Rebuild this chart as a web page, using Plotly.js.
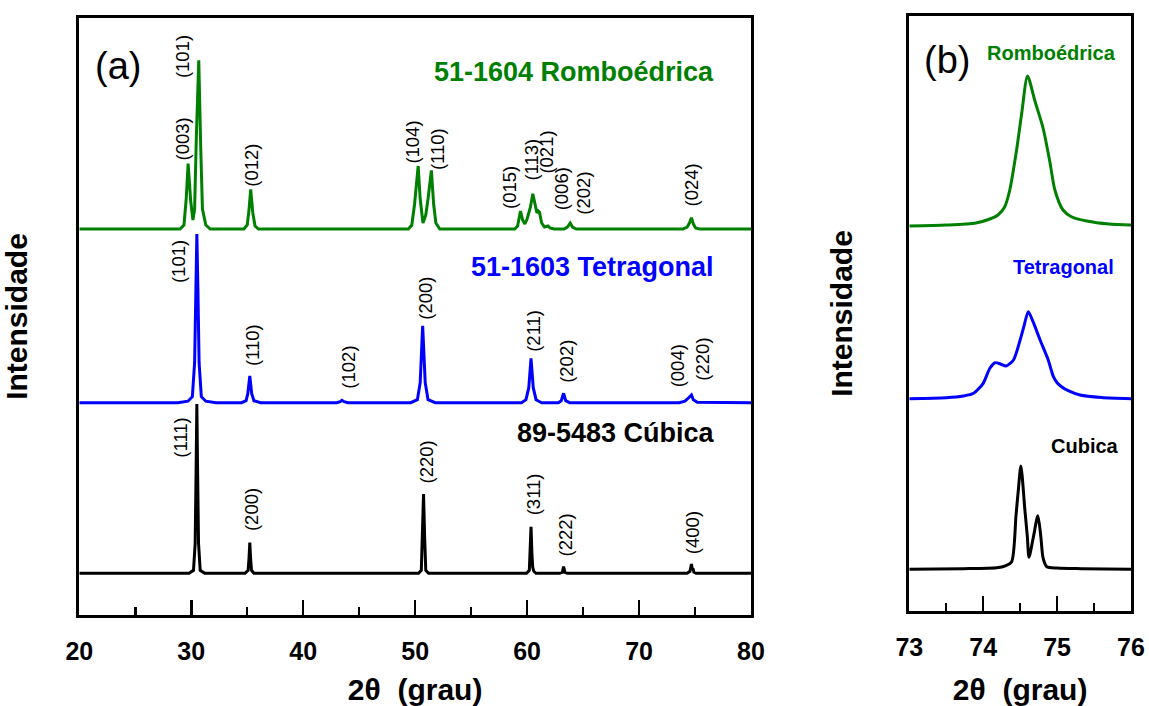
<!DOCTYPE html>
<html>
<head>
<meta charset="utf-8">
<script src="https://cdn.plot.ly/plotly-3.0.1.min.js"></script>
<style>html,body{margin:0;padding:0;background:#fff;}#chart{width:1149px;height:706px;}</style>
</head>
<body>
<div id="chart"></div>
<script>
// ---------- Panel (a): full patterns, 2θ (grau) ----------
// Stacking offsets (same arbitrary intensity units as the patterns)
const offsetCubica = 0;
const offsetTetragonal = 170.6;
const offsetRomboedrica = 344.3;

// 51-1604 Romboédrica
const romboX = [20, 29.0, 29.35, 29.55, 29.72, 29.95, 30.15, 30.3, 30.45, 30.67, 30.85, 31.0, 31.3, 31.7,
  34.7, 35.0, 35.15, 35.31, 35.5, 35.7, 36.0,
  49.4, 49.7, 49.95, 50.27, 50.45, 50.7, 50.95, 51.15, 51.45, 51.65, 51.85, 52.2,
  58.9, 59.15, 59.3, 59.41, 59.6, 59.8, 60.0, 60.3, 60.51, 60.72, 60.88, 61.0, 61.1, 61.3, 61.55, 61.87, 62.05, 62.4,
  63.3, 63.6, 63.85, 64.05, 64.4,
  73.9, 74.3, 74.5, 74.68, 74.85, 75.05, 75.4, 80];
const romboY = [0, 0, 4, 30, 65.3, 28, 9, 20, 90, 168.7, 80, 20, 4, 0,
  0, 4, 18, 39.7, 16, 3, 0,
  0, 4, 25, 63, 30, 6, 14, 30, 58.7, 25, 6, 0,
  0, 3, 10, 18, 9, 5, 10, 22, 35.3, 22, 16, 18, 17, 6, 2, 3, 1, 0,
  0, 2, 6, 2, 0,
  0, 2, 6, 11.3, 5, 1, 0, 0];

// 51-1603 Tetragonal
const tetraX = [20, 28.8, 29.7, 30.1, 30.3, 30.4, 30.5, 30.6, 30.7, 30.9, 31.3, 32.2,
  34.5, 34.9, 35.05, 35.23, 35.4, 35.6, 36.2,
  43.0, 43.3, 43.46, 43.65, 44.0,
  49.6, 50.2, 50.45, 50.67, 50.9, 51.15, 51.8,
  59.5, 59.9, 60.15, 60.35, 60.55, 60.8, 61.3,
  62.8, 63.05, 63.26, 63.45, 63.8,
  73.6, 74.1, 74.3, 74.5, 74.68, 74.85, 75.2, 80];
const tetraY = [0, 0, 1.5, 6, 40, 110, 168.7, 110, 40, 6, 1.5, 0,
  0, 2, 9, 26.7, 9, 2, 0,
  0, 1, 2.4, 1, 0,
  0, 3, 20, 77, 20, 3, 0,
  0, 3, 15, 44.4, 15, 3, 0,
  0, 2, 9.4, 2, 0,
  0, 1.5, 3.5, 6, 7.7, 3, 0.5, 0];

// 89-5483 Cúbica
const cubX = [20, 29.8, 30.2, 30.35, 30.43, 30.5, 30.57, 30.65, 30.8, 31.2,
  34.8, 35.08, 35.16, 35.23, 35.3, 35.38, 35.6,
  50.3, 50.55, 50.65, 50.75, 50.85, 50.95, 51.2,
  59.95, 60.2, 60.28, 60.35, 60.43, 60.5, 60.6, 60.8,
  62.9, 63.15, 63.26, 63.38, 63.6,
  74.3, 74.55, 74.68, 74.76, 74.82, 74.9, 75.1, 80];
const cubY = [0, 0, 3, 30, 100, 169.3, 100, 30, 3, 0,
  0, 3, 15, 30.6, 15, 3, 0,
  0, 3, 35, 79.3, 35, 3, 0,
  0, 3, 20, 46.6, 20, 6, 2, 0,
  0, 1, 6.6, 1, 0,
  0, 2, 9.3, 4, 5, 1, 0, 0];

// Miller index labels (text) for each phase
const romboHkl = ['(101)', '(003)', '(012)', '(104)', '(110)', '(015)', '(113)', '(021)', '(006)', '(202)', '(024)'];
const tetraHkl = ['(101)', '(110)', '(102)', '(200)', '(211)', '(202)', '(004)', '(220)'];
const cubHkl = ['(111)', '(200)', '(220)', '(311)', '(222)', '(400)'];

// ---------- Panel (b): zoom 73–76° ----------
const zoomOffsetCubica = 0;
const zoomOffsetTetragonal = 170.6;
const zoomOffsetRomboedrica = 343.3;

const zRomboX = [73.0, 73.5, 73.9, 74.09, 74.2, 74.29, 74.36, 74.45, 74.52, 74.6, 74.7, 74.81, 74.9, 74.97, 75.08, 75.2, 75.4, 75.7, 76.0];
const zRomboY = [0, 1, 3, 7, 11, 19, 36, 75, 112, 150, 125, 98, 65, 36, 16, 9, 5, 2, 1];

const zTetraX = [73.0, 73.5, 73.73, 73.87, 74.0, 74.09, 74.16, 74.24, 74.31, 74.41, 74.5, 74.55, 74.61, 74.68, 74.77, 74.88, 74.95, 75.0, 75.06, 75.15, 75.31, 75.6, 76.0];
const zTetraY = [0, 1, 2.7, 5.4, 15.4, 30.4, 36, 34.5, 32.7, 38.7, 58.7, 72, 87, 76, 58.7, 38.7, 22, 16, 12, 8, 3.7, 1.2, 0];

const zCubX = [73.0, 73.73, 74.18, 74.3, 74.385, 74.444, 74.475, 74.51, 74.566, 74.597, 74.62, 74.68, 74.74, 74.78, 74.81, 74.86, 75.0, 75.33, 76.0];
const zCubY = [0, 0.6, 1.6, 3.5, 7.6, 54, 79, 103.3, 57.6, 33, 12, 32.6, 53.6, 32.6, 11.3, 2.6, 1.2, 0.6, 0];

const GREEN = '#008000', BLUE = '#0000ff', BLACK = '#000000';
const FONT = 'Liberation Sans, Arial, Helvetica, sans-serif';

function shift(arr, off) { return arr.map(v => v + off); }

const smooth = {shape: 'spline', smoothing: 0.7};
const traces = [
  {x: cubX, y: shift(cubY, offsetCubica), xaxis: 'x', yaxis: 'y', mode: 'lines', line: {color: BLACK, width: 3}, name: '89-5483 Cúbica'},
  {x: tetraX, y: shift(tetraY, offsetTetragonal), xaxis: 'x', yaxis: 'y', mode: 'lines', line: {color: BLUE, width: 3}, name: '51-1603 Tetragonal'},
  {x: romboX, y: shift(romboY, offsetRomboedrica), xaxis: 'x', yaxis: 'y', mode: 'lines', line: {color: GREEN, width: 3}, name: '51-1604 Romboédrica'},
  {x: zCubX, y: shift(zCubY, zoomOffsetCubica), xaxis: 'x2', yaxis: 'y2', mode: 'lines', line: Object.assign({color: BLACK, width: 3}, smooth), name: 'Cubica'},
  {x: zTetraX, y: shift(zTetraY, zoomOffsetTetragonal), xaxis: 'x2', yaxis: 'y2', mode: 'lines', line: Object.assign({color: BLUE, width: 3}, smooth), name: 'Tetragonal'},
  {x: zRomboX, y: shift(zRomboY, zoomOffsetRomboedrica), xaxis: 'x2', yaxis: 'y2', mode: 'lines', line: Object.assign({color: GREEN, width: 3}, smooth), name: 'Romboédrica'}
];

// label placement (layout only)
const romboHklPos = [[29.21, 516.6], [29.13, 434.3], [35.31, 408.3], [49.80, 431.6], [51.96, 424.3], [58.42, 385.8], [60.31, 413.3], [61.77, 421.6], [63.06, 384.3], [64.96, 380.3], [74.68, 388.3]];
const tetraHklPos = [[28.82, 311.3], [35.43, 228.3], [43.97, 206.3], [50.86, 275.3], [60.51, 242.3], [63.46, 212.3], [73.42, 207.3], [75.59, 214.3]];
const cubHklPos = [[29.01, 135.8], [35.43, 63.3], [50.97, 110.8], [60.58, 78.6], [63.46, 38.6], [74.76, 40.5]];

const annotations = [];
function hklAnn(texts, pos) {
  texts.forEach((t, i) => annotations.push({
    xref: 'x', yref: 'y', x: pos[i][0], y: pos[i][1], text: t, textangle: -90,
    showarrow: false, xanchor: 'center', yanchor: 'middle',
    font: {family: FONT, size: 18.5, color: BLACK}
  }));
}
hklAnn(romboHkl, romboHklPos);
hklAnn(tetraHkl, tetraHklPos);
hklAnn(cubHkl, cubHklPos);

function txt(xref, yref, x, y, text, size, color, bold, xanchor) {
  annotations.push({xref, yref, x, y, text, showarrow: false, xanchor: xanchor || 'center', yanchor: 'middle',
    font: {family: FONT, size, color, weight: bold ? 'bold' : 'normal'}});
}
txt('x', 'y', 76.85, 501.6, '51-1604 Romboédrica', 27, GREEN, true, 'right');
txt('x', 'y', 76.84, 306.6, '51-1603 Tetragonal', 27, BLUE, true, 'right');
txt('x', 'y', 76.96, 140, '89-5483 Cúbica', 27, BLACK, true, 'right');
txt('x', 'y', 23.46, 507.3, '(a)', 38, BLACK, false);
txt('x2', 'y2', 74.93, 516.3, 'Romboédrica', 20, GREEN, true);
txt('x2', 'y2', 75.08, 302.6, 'Tetragonal', 20, BLUE, true);
txt('x2', 'y2', 75.38, 123.3, 'Cubica', 20, BLACK, true);
txt('x2', 'y2', 73.51, 509.3, '(b)', 38, BLACK, false);

const tickFont = {family: FONT, size: 25, color: BLACK, weight: 'bold'};
const titleFont = {family: FONT, size: 30, color: BLACK, weight: 'bold'};
const yTitleFont = {family: FONT, size: 30, color: BLACK, weight: 'bold'};

const xCommon = {
  showline: true, linecolor: BLACK, linewidth: 3, mirror: true, showgrid: false, zeroline: false,
  ticks: 'inside', ticklen: 15, tickwidth: 2.5, tickcolor: BLACK, tickfont: tickFont,
  ticklabelstandoff: 12
};
const yCommon = {
  showline: true, linecolor: BLACK, linewidth: 3, mirror: true, showgrid: false, zeroline: false,
  ticks: '', showticklabels: false
};

const layout = {
  width: 1149, height: 706,
  margin: {l: 0, r: 0, t: 0, b: 0},
  paper_bgcolor: '#fff', plot_bgcolor: '#fff',
  showlegend: false,
  font: {family: FONT},
  xaxis: Object.assign({}, xCommon, {
    domain: [0.06902, 0.65361], anchor: 'y', range: [20, 80], dtick: 10, tick0: 20,
    minor: {ticks: 'inside', ticklen: 8, tickwidth: 2.5, tickcolor: BLACK, dtick: 5, tick0: 20},
    title: {text: '2θ  (grau)', font: titleFont}
  }),
  yaxis: Object.assign({}, yCommon, {
    domain: [0.12890, 0.97450], anchor: 'x', range: [-41.7, 555.3],
    title: {text: 'Intensidade', font: yTitleFont}
  }),
  xaxis2: Object.assign({}, xCommon, {
    domain: [0.79138, 0.98433], anchor: 'y2', range: [73, 76], dtick: 1, tick0: 73,
    minor: {ticks: 'inside', ticklen: 8, tickwidth: 2.5, tickcolor: BLACK, dtick: 0.5, tick0: 73},
    title: {text: '2θ  (grau)', font: titleFont}
  }),
  yaxis2: Object.assign({}, yCommon, {
    domain: [0.13456, 0.97734], anchor: 'x2', range: [-41.7, 553.3],
    title: {text: 'Intensidade', font: yTitleFont}
  }),
  annotations
};

Plotly.newPlot('chart', traces, layout, {staticPlot: true, displayModeBar: false});
</script>
</body>
</html>
